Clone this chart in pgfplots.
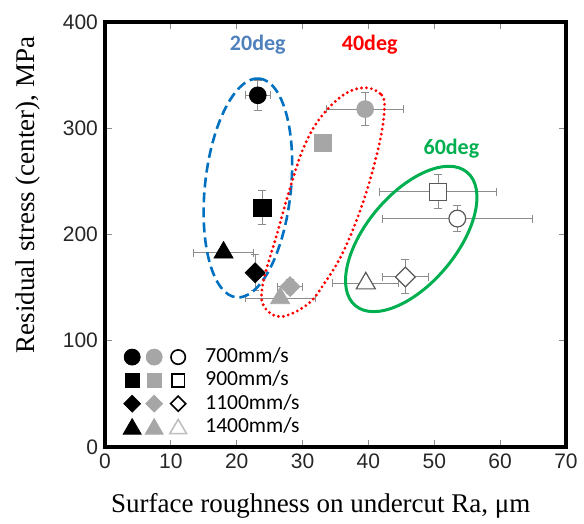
\documentclass[border=0pt]{standalone}
\usepackage{pgfplots}
\pgfplotsset{compat=1.18}
\usepackage{fontspec}
\setmainfont{Liberation Sans}
\newfontfamily\serifF{Liberation Serif}
\newfontfamily\cali{Carlito}
\definecolor{g1}{HTML}{A6A6A6}
\definecolor{eb}{HTML}{8C8C8C}
\definecolor{deg20}{HTML}{4F81BD}
\definecolor{ell20}{HTML}{0070C0}
\definecolor{deg40}{HTML}{FF0000}
\definecolor{deg60}{HTML}{00B050}
\definecolor{ow}{HTML}{595959}
\definecolor{ltri}{HTML}{BFBFBF}
\pgfplotsset{
  pt/.style={only marks, forget plot,
    error bars/x dir=both, error bars/x explicit,
    error bars/y dir=both, error bars/y explicit},
}
\begin{document}
\begin{tikzpicture}
\begin{axis}[
  scale only axis, width=230.5pt, height=212.5pt,
  xmin=0, xmax=70, ymin=0, ymax=400,
  xtick={0,10,...,70}, ytick={0,100,...,400},
  tick align=inside, major tick length=3.3pt,
  tick style={eb, line width=0.5pt},
  axis line style={line width=1.6pt},
  ticklabel style={font=\fontsize{10.5}{12}\selectfont, text=black!85},
  /pgf/number format/assume math mode=true,
  xlabel={Surface roughness on undercut Ra, μm},
  ylabel={Residual stress (center), MPa},
  label style={font=\serifF\fontsize{13.5}{15}\selectfont},
  xlabel style={at={(axis description cs:0.468,-0.139)}, anchor=center},
  ylabel style={at={(axis description cs:-0.168,0.593)}, anchor=center},
  clip=false,
  error bars/error bar style={eb, line width=0.5pt},
  error bars/error mark options={eb, line width=0.5pt, mark size=2pt, rotate=90},
  legend style={draw=none, fill=none, inner sep=0pt, outer sep=0pt,
    at={(axis cs:2.7,8)}, anchor=south west,
    font=\cali\fontsize{10.75}{12}\selectfont,
    nodes={inner sep=1pt, text height=7.5pt, text depth=2pt},
    row sep=0.15pt,
    /tikz/every odd column/.append style={column sep=8pt}},
  legend cell align=left,
]
% legend
\addlegendimage{legend image code/.code={
  \fill[black] (0pt,0pt) circle (4pt);
  \fill[g1] (11pt,0pt) circle (4pt);
  \draw[black, line width=0.8pt, fill=white] (23pt,0pt) circle (3.6pt);}}
\addlegendentry{700mm/s}
\addlegendimage{legend image code/.code={
  \fill[black] (-3.5pt,-3.5pt) rectangle (3.5pt,3.5pt);
  \fill[g1] (7.5pt,-3.5pt) rectangle (14.5pt,3.5pt);
  \draw[black, line width=0.8pt, fill=white] (19.8pt,-3.2pt) rectangle (26.2pt,3.2pt);}}
\addlegendentry{900mm/s}
\addlegendimage{legend image code/.code={
  \fill[black] (-4.2pt,0pt) -- (0pt,4.2pt) -- (4.2pt,0pt) -- (0pt,-4.2pt) -- cycle;
  \fill[g1] (6.8pt,0pt) -- (11pt,4.2pt) -- (15.2pt,0pt) -- (11pt,-4.2pt) -- cycle;
  \draw[black, line width=0.8pt, fill=white] (19.2pt,0pt) -- (23pt,3.8pt) -- (26.8pt,0pt) -- (23pt,-3.8pt) -- cycle;}}
\addlegendentry{1100mm/s}
\addlegendimage{legend image code/.code={
  \fill[black] (-4.5pt,-3.6pt) -- (0pt,4.2pt) -- (4.5pt,-3.6pt) -- cycle;
  \fill[g1] (6.5pt,-3.6pt) -- (11pt,4.2pt) -- (15.5pt,-3.6pt) -- cycle;
  \draw[ltri, line width=0.8pt, fill=white] (18.8pt,-3.3pt) -- (23pt,3.8pt) -- (27.2pt,-3.3pt) -- cycle;}}
\addlegendentry{1400mm/s}

% 20 deg (black)
\addplot[pt, mark=*, mark size=4.2pt, mark options={draw=black, fill=black}]
  coordinates {(23.2,331) +- (1.9,14)};
\addplot[pt, mark=square*, mark size=4.3pt, mark options={draw=black, fill=black}]
  coordinates {(23.9,225) +- (0,16)};
\addplot[pt, mark=square*, mark size=3.5pt, mark options={draw=black, fill=black, rotate=45}]
  coordinates {(22.8,164) +- (0,17)};
\addplot[pt, mark=triangle*, mark size=5.5pt, mark options={draw=black, fill=black}]
  coordinates {(18.0,183) +- (4.5,3)};
% 40 deg (gray)
\addplot[pt, mark=*, mark size=4.2pt, mark options={draw=g1, fill=g1}]
  coordinates {(39.5,318) +- (5.8,15.5)};
\addplot[pt, mark=square*, mark size=4.3pt, mark options={draw=g1, fill=g1}]
  coordinates {(33.1,286) +- (0,0)};
\addplot[pt, mark=square*, mark size=3.5pt, mark options={draw=g1, fill=g1, rotate=45}]
  coordinates {(28.1,151) +- (1.9,7)};
\addplot[pt, mark=triangle*, mark size=5.5pt, mark options={draw=g1, fill=g1}]
  coordinates {(26.6,140) +- (5.3,2)};
% 60 deg (open)
\addplot[pt, mark=*, mark size=4.2pt, mark options={draw=ow, fill=white, line width=0.6pt}]
  coordinates {(53.5,215) +- (11.4,12.5)};
\addplot[pt, mark=square*, mark size=4.3pt, mark options={draw=ow, fill=white, line width=0.6pt}]
  coordinates {(50.6,240) +- (8.9,16)};
\addplot[pt, mark=square*, mark size=3.5pt, mark options={draw=ow, fill=white, line width=0.6pt, rotate=45}]
  coordinates {(45.6,160) +- (3.5,16)};
\addplot[pt, mark=triangle*, mark size=5.5pt, mark options={draw=ow, fill=white, line width=0.6pt}]
  coordinates {(39.6,154) +- (5,3)};

% group outlines
\draw[ell20, line width=1.3pt, dash pattern=on 5pt off 2.5pt]
  (axis cs:21.7,243.8) circle [x radius=55pt, y radius=21.5pt, rotate=84];
\draw[deg40, line width=1.6pt, dash pattern=on 0pt off 2.5pt, line cap=round]
  plot[smooth cycle, tension=0.6] coordinates {
  (axis cs:39.48,338.2) (axis cs:42.01,331.3) (axis cs:42.41,315.6)
  (axis cs:41.50,281.1) (axis cs:39.22,230.9) (axis cs:36.18,183.8)
  (axis cs:33.15,152.5) (axis cs:30.63,133.6) (axis cs:26.57,122.6)
  (axis cs:24.04,133.6) (axis cs:24.04,155.6) (axis cs:26.07,199.5)
  (axis cs:28.09,243.5) (axis cs:30.11,281.1) (axis cs:32.64,309.4)
  (axis cs:36.18,331.3)};
\draw[deg60, line width=1.5pt]
  (axis cs:46.5,195.8) circle [x radius=43.5pt, y radius=22.5pt, rotate=50];

\node[font=\cali\bfseries\fontsize{11}{13}\selectfont, text=deg20] at (axis cs:23.2,379) {20deg};
\node[font=\cali\bfseries\fontsize{11}{13}\selectfont, text=deg40] at (axis cs:40.2,379) {40deg};
\node[font=\cali\bfseries\fontsize{11}{13}\selectfont, text=deg60] at (axis cs:52.6,281) {60deg};
\end{axis}
\pgfresetboundingbox
\path[use as bounding box] ([shift={(-52.5pt,-38.5pt)}]current axis.south west)
  rectangle ([shift={(9pt,11pt)}]current axis.north east);
\end{tikzpicture}
\end{document}
